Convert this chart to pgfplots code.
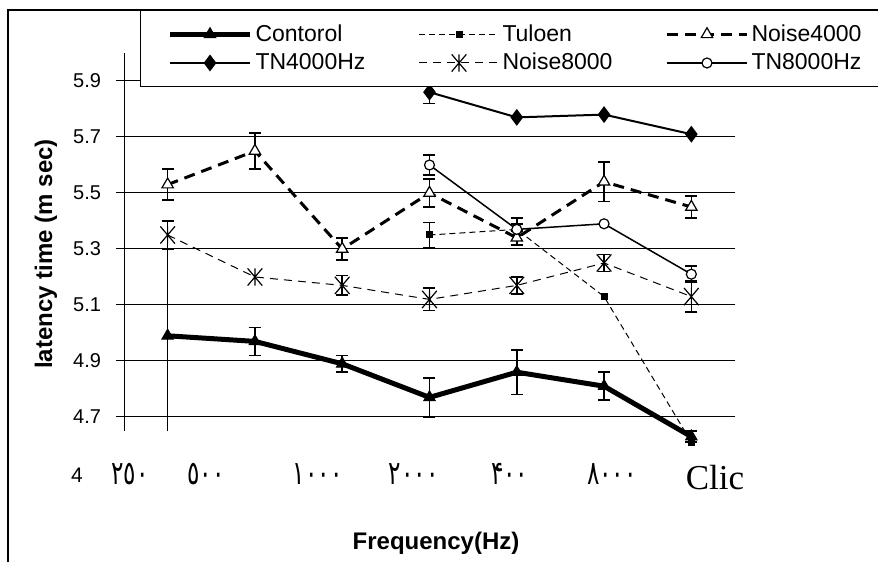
\documentclass[border=0pt]{standalone}
\usepackage{pgfplots}
\pgfplotsset{compat=1.18}
\usepackage{pgfplotstable}
\usepackage{fontspec}
\setmainfont{Liberation Sans}
\newfontfamily\arabicfont{DejaVu Sans}
\newfontfamily\timesfont{Liberation Serif}

% X with a vertical bar, as in the spreadsheet's star marker
\pgfdeclareplotmark{xstar}{%
  \pgfpathmoveto{\pgfqpoint{0pt}{-\pgfplotmarksize}}%
  \pgfpathlineto{\pgfqpoint{0pt}{\pgfplotmarksize}}%
  \pgfpathmoveto{\pgfqpoint{-0.85\pgfplotmarksize}{-\pgfplotmarksize}}%
  \pgfpathlineto{\pgfqpoint{0.85\pgfplotmarksize}{\pgfplotmarksize}}%
  \pgfpathmoveto{\pgfqpoint{-0.85\pgfplotmarksize}{\pgfplotmarksize}}%
  \pgfpathlineto{\pgfqpoint{0.85\pgfplotmarksize}{-\pgfplotmarksize}}%
  \pgfusepathqstroke}

\newcommand{\ar}[1]{\scalebox{1.05}[1.5]{\arabicfont #1}}

\pgfplotstableread{
x y
1 4.99
2 4.97
3 4.89
4 4.77
5 4.86
6 4.81
7 4.63
}\control
\pgfplotstableread{
x y e
2 4.97 0.05
3 4.89 0.03
4 4.77 0.07
5 4.86 0.08
6 4.81 0.05
7 4.63 0.02
}\controlerr
\pgfplotstableread{
x y ep em
1 4.99 0.31 0.34
}\controlerrone

\pgfplotstableread{
x y
4 5.35
5 5.37
6 5.13
7 4.61
}\tuloen
\pgfplotstableread{
x y e
4 5.35 0.045
5 5.37 0.04
}\tuloenerr

\pgfplotstableread{
x y
1 5.53
2 5.65
3 5.30
4 5.50
5 5.34
6 5.54
7 5.45
}\noisefour
\pgfplotstableread{
x y e
1 5.53 0.055
2 5.65 0.065
3 5.30 0.04
4 5.50 0.05
5 5.34 0.025
6 5.54 0.07
7 5.45 0.04
}\noisefourerr

\pgfplotstableread{
x y
4 5.86
5 5.77
6 5.78
7 5.71
}\tnfour
\pgfplotstableread{
x y e
4 5.86 0.04
}\tnfourerr

\pgfplotstableread{
x y
1 5.35
2 5.20
3 5.17
4 5.12
5 5.17
6 5.25
7 5.13
}\noiseeight
\pgfplotstableread{
x y e
1 5.35 0.05
3 5.17 0.035
4 5.12 0.04
5 5.17 0.03
6 5.25 0.03
7 5.13 0.055
}\noiseeighterr

\pgfplotstableread{
x y
4 5.60
5 5.37
6 5.39
7 5.21
}\tneight
\pgfplotstableread{
x y e
4 5.60 0.035
5 5.37 0.02
7 5.21 0.03
}\tneighterr

\pgfplotsset{
  errplot/.style={draw=none, mark=none, forget plot,
    /pgfplots/error bars/y dir=both, /pgfplots/error bars/y explicit,
    /pgfplots/error bars/error bar style={solid, draw=black, line width=0.8pt},
    /pgfplots/error bars/error mark options={rotate=90, solid, draw=black, line width=0.8pt, mark size=3pt}},
}

\begin{document}
\begin{tikzpicture}
\useasboundingbox (0,0) rectangle (439pt,281pt);
\draw[line width=1.1pt] (4pt,-2pt) -- (4pt,276pt) -- (442pt,276pt);

\begin{axis}[
  at={(62pt,65.5pt)}, anchor=south west,
  scale only axis, width=305.5pt, height=189pt,
  xmin=0.5, xmax=7.5, ymin=4.65, ymax=6.0,
  clip=false,
  axis y line*=left, axis x line*=bottom,
  x axis line style={draw=none},
  y axis line style={line width=0.5pt, -},
  ytick={4.7,4.9,5.1,5.3,5.5,5.7,5.9},
  yticklabels={4.7,4.9,5.1,5.3,5.5,5.7,5.9},
  tick align=outside, major tick length=4pt,
  ytick style={black, line width=0.5pt},
  ymajorgrids, grid style={black, line width=0.5pt, solid},
  yticklabel style={font=\fontsize{10}{12}\selectfont, xshift=-4pt},
  xtick={0.57,1.44,2.72,3.82,4.92,6.09,7.27},
  xticklabels={{\ar{٢٥٠}},{\ar{٥٠٠}},{\ar{١٠٠٠}},{\ar{٢٠٠٠}},{\ar{۴٠٠}},{\ar{٨٠٠٠}},{\raisebox{-2pt}{\timesfont\fontsize{17.5}{20}\selectfont Clic}}},
  xtick style={draw=none},
  xticklabel style={anchor=base, yshift=-23pt, font=\fontsize{11}{13}\selectfont},
  legend columns=3,
  legend cell align=left,
  legend image code/.code={\draw[mark repeat=2, mark phase=2, #1] plot coordinates {(0pt,0pt) (20pt,0pt) (40pt,0pt)};},
  legend style={at={(0.0262,1.1138)}, anchor=north west, draw=black, line width=0.5pt, fill=white,
    inner xsep=13.5pt, inner ysep=7pt, row sep=4.5pt,
    font=\fontsize{11.5}{13}\selectfont, nodes={inner sep=0pt, text depth=0.15em},
    /tikz/every odd column/.append style={column sep=1.5pt},
    /tikz/every even column/.append style={column sep=6.5pt}},
]

\addplot[black, line width=2.5pt, solid, mark=triangle*, mark size=3.3pt,
  mark options={solid, line width=0.5pt, fill=black}] table[x=x, y=y] {\control};
\addlegendentry{\makebox[75pt][l]{Contorol}}

\addplot[black, line width=0.5pt, dash pattern=on 3pt off 2pt, mark=square*, mark size=1.5pt,
  mark options={solid, fill=black}] table[x=x, y=y] {\tuloen};
\addlegendentry{\makebox[75pt][l]{Tuloen}}

\addplot[black, line width=1.5pt, dash pattern=on 5.5pt off 3.5pt, mark=triangle*, mark size=3.3pt,
  mark options={solid, line width=0.6pt, fill=white}] table[x=x, y=y] {\noisefour};
\addlegendentry{\makebox[50pt][l]{Noise4000}}

\addplot[black, line width=1pt, solid, mark=diamond*, mark size=3.4pt,
  mark options={solid, fill=black}] table[x=x, y=y] {\tnfour};
\addlegendentry{\makebox[75pt][l]{TN4000Hz}}

\addplot[black, line width=0.5pt, dash pattern=on 4pt off 3pt, mark=xstar, mark size=4.3pt,
  mark options={solid, line width=0.6pt}] table[x=x, y=y] {\noiseeight};
\addlegendentry{\makebox[75pt][l]{Noise8000}}

\addplot[black, line width=0.75pt, solid, mark=*, mark size=2.5pt,
  mark options={solid, fill=white, line width=0.6pt}] table[x=x, y=y] {\tneight};
\addlegendentry{\makebox[50pt][l]{TN8000Hz}}

% error bars
\addplot[errplot] table[x=x, y=y, y error=e] {\controlerr};
\addplot[errplot, /pgfplots/error bars/error mark=none] table[x=x, y=y, y error plus=ep, y error minus=em] {\controlerrone};
\addplot[errplot] table[x=x, y=y, y error=e] {\tuloenerr};
\addplot[errplot] table[x=x, y=y, y error=e] {\noisefourerr};
\addplot[errplot] table[x=x, y=y, y error=e] {\tnfourerr};
\addplot[errplot] table[x=x, y=y, y error=e] {\noiseeighterr};
\addplot[errplot] table[x=x, y=y, y error=e] {\tneighterr};
\end{axis}

\node[font=\fontsize{10.5}{12}\selectfont] at (38.5pt,43.5pt) {4};
\node[rotate=90, font=\bfseries\fontsize{12}{14}\selectfont] at (23pt,154pt) {latency time (m sec)};
\node[font=\bfseries\fontsize{12}{14}\selectfont] at (218pt,9.5pt) {Frequency(Hz)};
\end{tikzpicture}
\end{document}
